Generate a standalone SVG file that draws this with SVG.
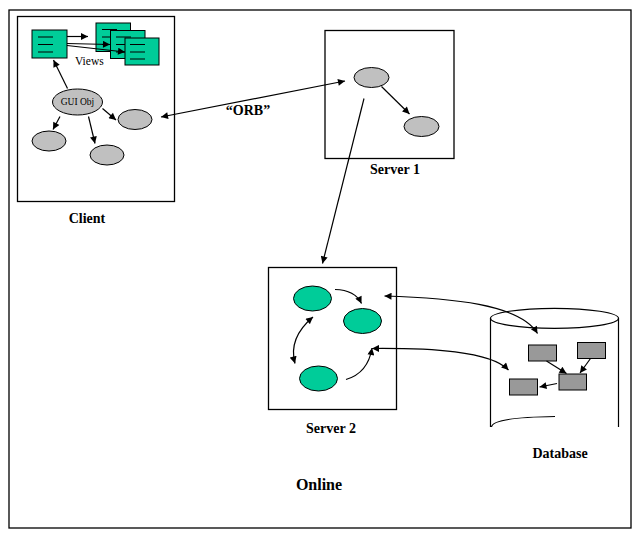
<svg xmlns="http://www.w3.org/2000/svg" width="641" height="541" viewBox="0 0 641 541">
<defs>
<marker id="ah" viewBox="0 0 10 10" refX="10" refY="5" markerWidth="9" markerHeight="7" markerUnits="userSpaceOnUse" orient="auto-start-reverse">
<path d="M0,0 L10,5 L0,10 z" fill="#000"/>
</marker>
<style>
.box{fill:#fff;stroke:#000;stroke-width:1.3}
.grn{fill:#00CC99;stroke:#000;stroke-width:1}
.gry{fill:#C0C0C0;stroke:#000;stroke-width:1}
.dbr{fill:#999;stroke:#000;stroke-width:1}
.ln{fill:none;stroke:#000;stroke-width:1.2}
.c{fill:none;stroke:#000;stroke-width:1.2;marker-end:url(#ah)}
.d{fill:none;stroke:#000;stroke-width:1.2;marker-end:url(#ah);marker-start:url(#ah)}
.t{font-family:'Liberation Serif','Times New Roman',serif}
.lbl{font-family:'Liberation Serif','Times New Roman',serif;font-weight:bold;font-size:14px;text-anchor:middle}
</style>
</defs>
<rect width="641" height="541" fill="#fff"/>
<rect x="9" y="10" width="622" height="518" fill="none" stroke="#000" stroke-width="1.3"/>

<g id="client">
<rect class="box" x="17.5" y="16.5" width="157" height="185"/>
<g id="views">
<rect class="grn" x="32" y="30" width="35" height="28"/>
<path class="ln" d="M38,37h15M38,44.5h15M38,52h15" stroke-width="1"/>
<rect class="grn" x="96" y="23" width="34.5" height="28.5"/>
<path class="ln" d="M102,29.5h15M102,37h15M102,44.5h15" stroke-width="1"/>
<rect class="grn" x="110.5" y="30.5" width="34.5" height="28"/>
<path class="ln" d="M116,37h15M116,44.5h15M116,52h15" stroke-width="1"/>
<rect class="grn" x="125" y="38" width="34" height="27"/>
<path class="ln" d="M130,44.5h15M130,52h15M130,59h15" stroke-width="1"/>
<text class="t" x="75" y="65" font-size="11.5">Views</text>
</g>
<g id="gui">
<ellipse class="gry" cx="77.5" cy="102" rx="25" ry="13"/>
<text class="t" x="77.5" y="105" font-size="9.5" text-anchor="middle">GUI Obj</text>
</g>
<ellipse id="c1" class="gry" cx="49" cy="141" rx="17" ry="10"/>
<ellipse id="c2" class="gry" cx="107" cy="155" rx="17" ry="10"/>
<ellipse id="c3" class="gry" cx="135" cy="119.5" rx="17" ry="10"/>
<text class="lbl" x="87" y="223">Client</text>
</g>

<g id="server1">
<rect class="box" x="325" y="30.5" width="129" height="128"/>
<ellipse class="gry" cx="371.5" cy="77.5" rx="17.5" ry="10"/>
<ellipse class="gry" cx="421.5" cy="126.5" rx="17.5" ry="10"/>
<text class="lbl" x="395" y="174">Server 1</text>
</g>

<g id="server2">
<rect class="box" x="268.5" y="267.5" width="128" height="142"/>
<ellipse class="grn" cx="312.5" cy="298.5" rx="19" ry="12.5"/>
<ellipse class="grn" cx="362.5" cy="321" rx="19" ry="12.5"/>
<ellipse class="grn" cx="318.5" cy="378.5" rx="19" ry="12.5"/>
<text class="lbl" x="331" y="433">Server 2</text>
</g>

<g id="database">
<path d="M490.5,318 V427 M618.5,318 V427" class="ln"/>
<ellipse cx="554.5" cy="318.3" rx="64" ry="10" fill="none" stroke="#000" stroke-width="1.2"/>
<path class="ln" d="M491.5,427 C492,420 520,417 555,416.5"/>
<rect class="dbr" x="528.5" y="345" width="28" height="16"/>
<rect class="dbr" x="577.5" y="342.5" width="28" height="16"/>
<rect class="dbr" x="559" y="374" width="27.5" height="16"/>
<rect class="dbr" x="509.5" y="379" width="28" height="16"/>
<text class="lbl" x="560" y="458">Database</text>
</g>

<text class="lbl" x="319" y="490" style="font-size:16px">Online</text>

<g id="connectors">
<path class="c" d="M67,36.5 H88"/>
<path class="c" d="M67,43.5 L110,44.5"/>
<path class="c" d="M67,45.5 L125,52"/>
<path class="c" d="M67.5,88.5 L53.5,60"/>
<path class="c" d="M60,116.5 L53,129.5"/>
<path class="c" d="M88.5,116.5 L95,143.5"/>
<path class="c" d="M102.5,108.5 L116,120"/>
<path class="d" d="M161,117 L345,81"/>
<path class="c" d="M381.5,86.5 L409.5,114"/>
<path class="c" d="M364,98.5 L322.5,263.5"/>
<path class="c" d="M335,289.5 Q355,290 361.5,303.5"/>
<path class="d" d="M313,317 Q288,338 295,363.5"/>
<path class="c" d="M346,379.5 Q368,373 372,348"/>
<path class="d" d="M384.5,296 C450,298 520,304 537.5,333.5"/>
<path class="d" d="M372,348.5 C430,348 490,351 508.5,370"/>
<path class="c" d="M546.5,361 L566.5,373.5"/>
<path class="c" d="M590.5,358.5 L580,373"/>
<path class="c" d="M557,383.5 L539.5,387"/>
<text class="lbl" x="248" y="115">“ORB”</text>
</g>
</svg>
